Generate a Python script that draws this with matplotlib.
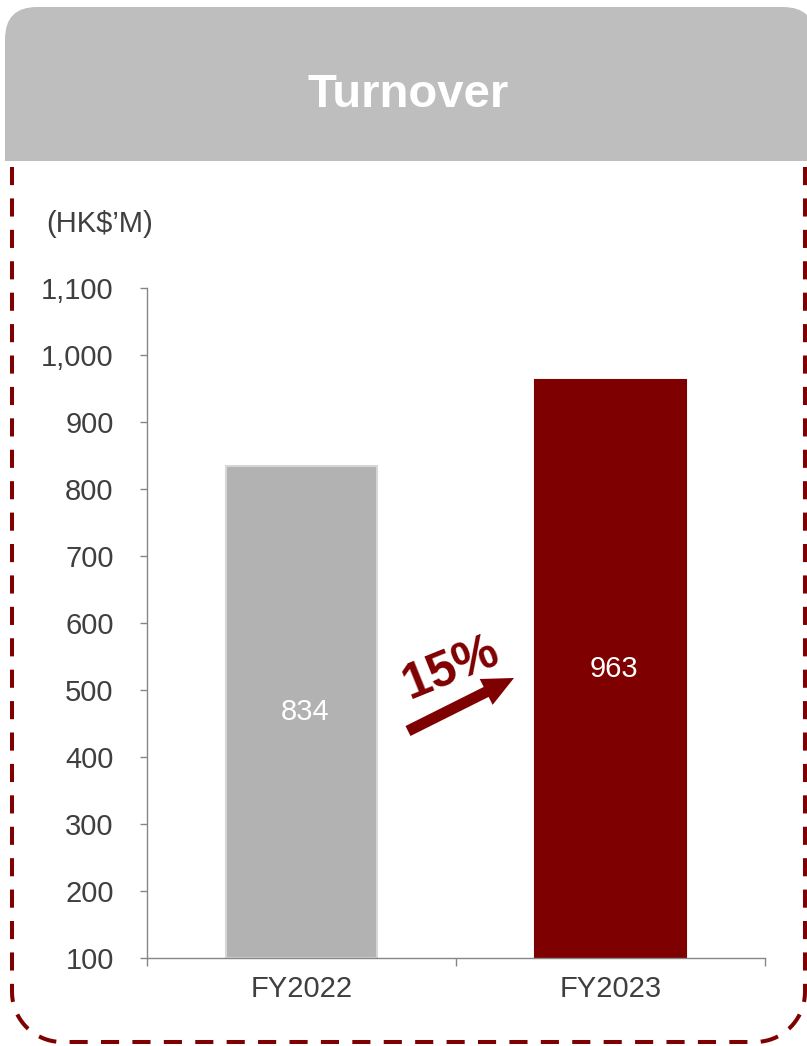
import numpy as np
import matplotlib
matplotlib.use('Agg')
import matplotlib.pyplot as plt
from matplotlib.patches import FancyBboxPatch, Rectangle, FancyArrowPatch

plt.rcParams['font.family'] = ['Liberation Sans', 'DejaVu Sans']

# data
categories = ['FY2022', 'FY2023']
turnover = [834, 963]
bar_colors = ['#B2B2B2', '#7F0000']
edge_colors = ['#D6D6D6', '#7F0000']
yticks = [100, 200, 300, 400, 500, 600, 700, 800, 900, 1000, 1100]
growth_label = '15%'
title = 'Turnover'
unit = "(HK$\u2019M)"

W, H = 807, 1046
red = '#7F0000'
txt = '#3F3F3F'

fig = plt.figure(figsize=(W / 100, H / 100), dpi=100)

# background layer in pixel coords
bg = fig.add_axes([0, 0, 1, 1])
bg.set_xlim(0, W)
bg.set_ylim(H, 0)
bg.axis('off')

# grey header with rounded top corners
hdr = FancyBboxPatch((5, 7), 810, 200, boxstyle='round,pad=0,rounding_size=32',
                     fc='#BEBEBE', ec='none')
bg.add_patch(hdr)
bg.add_patch(Rectangle((0, 161), W, 100, fc='white', ec='none'))
bg.text(408, 107, title, color='white', fontsize=34, fontweight='bold',
        ha='center', va='baseline')

# dashed border with rounded bottom corners
r = 50
xl, xr, yt, yb = 12, 805, 167, 1042
a1 = np.linspace(np.pi, np.pi / 2, 20)
a2 = np.linspace(np.pi / 2, 0, 20)
xs = np.concatenate([[xl], xl + r + r * np.cos(a1), xr - r + r * np.cos(a2), [xr]])
ys = np.concatenate([[yt], yb - r + r * np.sin(a1), yb - r + r * np.sin(a2), [yt]])
bg.plot(xs, ys, color=red, lw=2.9, linestyle=(0, (4.5, 3.3)), solid_capstyle='butt')

bg.text(46, 232, unit, color=txt, fontsize=21, ha='left', va='baseline')

# chart
ax = fig.add_axes([147 / W, (H - 958) / H, (765 - 147) / W, (958 - 288) / H])
ax.patch.set_alpha(0)
x = np.arange(len(categories))
base = yticks[0]
ax.bar(x, [v - base for v in turnover], bottom=base, width=0.49,
       color=bar_colors, edgecolor=edge_colors, linewidth=1.5)
for xi, v in zip(x, turnover):
    ax.text(xi + 0.01, (base + v) / 2, str(v), color='white', fontsize=21,
            ha='center', va='center')

ax.set_xlim(-0.5, len(categories) - 0.5)
ax.set_ylim(yticks[0], yticks[-1])
ax.set_yticks(yticks)
ax.set_yticklabels([f'{t:,}' for t in yticks])
ax.set_xticks(x)
ax.set_xticklabels(categories)
ax.set_xticks(np.arange(-0.5, len(categories)), minor=True)
for s in ['top', 'right']:
    ax.spines[s].set_visible(False)
for s in ['left', 'bottom']:
    ax.spines[s].set_color('#868686')
    ax.spines[s].set_linewidth(1)
ax.tick_params(axis='y', direction='out', length=5, width=1, color='#868686',
               pad=19, labelsize=21, labelcolor=txt)
ax.tick_params(axis='x', which='major', length=0, pad=12, labelsize=21, labelcolor=txt)
ax.tick_params(axis='x', which='minor', direction='out', length=6, width=1, color='#868686')

# growth arrow
arr = FancyArrowPatch((408, 731), (514, 678),
                      arrowstyle='simple,head_length=1.4,head_width=1.3,tail_width=0.5',
                      mutation_scale=16, color=red, lw=0, shrinkA=0, shrinkB=0)
bg.add_patch(arr)
bg.text(451, 668, growth_label, color=red, fontsize=36, fontweight='bold',
        rotation=22, ha='center', va='center', rotation_mode='anchor')

fig.savefig('out.png', dpi=100)
